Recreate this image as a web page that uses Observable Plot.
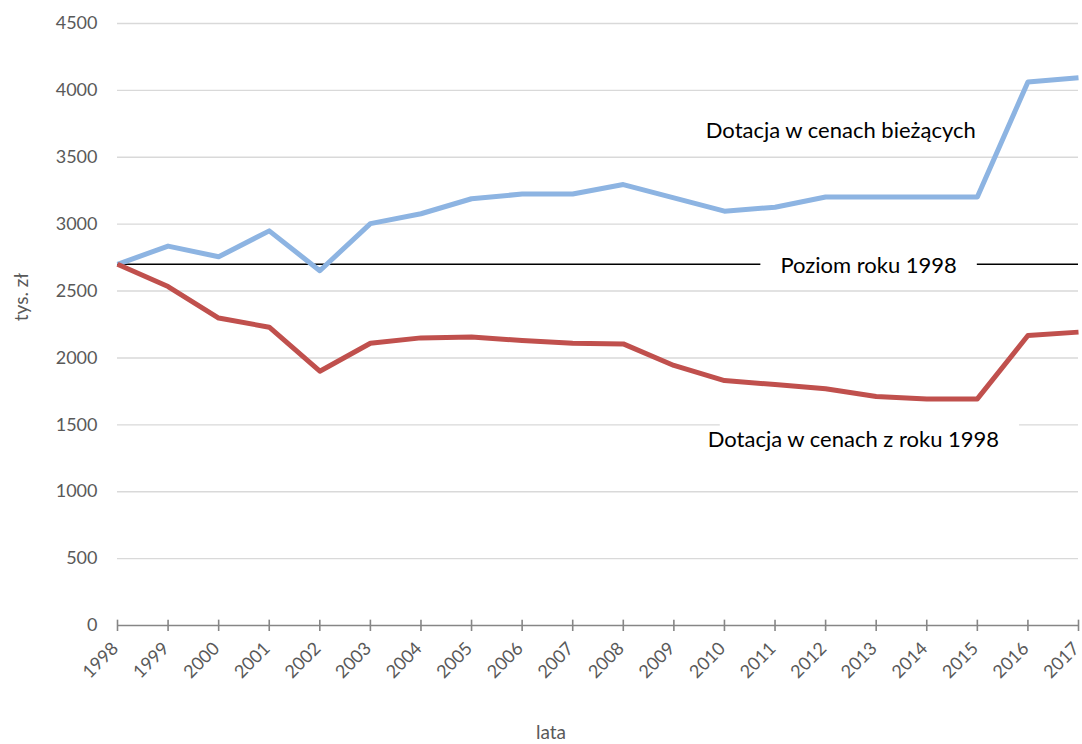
<!DOCTYPE html>
<html>
<head>
<meta charset="utf-8">
<script src="https://cdn.jsdelivr.net/npm/d3@7"></script>
<script src="https://cdn.jsdelivr.net/npm/@observablehq/plot@0.6"></script>
<style>
  html, body { margin: 0; padding: 0; background: #fff; }
  #chart { width: 1082px; height: 744px; }
  svg { font-family: Lato, "Open Sans", sans-serif; }
</style>
</head>
<body>
<div id="chart"></div>
<script>
const years = [1998, 1999, 2000, 2001, 2002, 2003, 2004, 2005, 2006, 2007, 2008, 2009, 2010, 2011, 2012, 2013, 2014, 2015, 2016, 2017];
const currentPrices = [2700, 2836, 2756, 2950, 2652, 3004, 3078, 3190, 3225, 3225, 3296, 3196, 3097, 3127, 3203, 3203, 3203, 3203, 4063, 4094];
const constantPrices = [2700, 2534, 2298, 2230, 1901, 2110, 2150, 2157, 2130, 2110, 2105, 1944, 1831, 1801, 1769, 1712, 1694, 1694, 2168, 2193];
const baseLevel = 2700;
const yTicks = [0, 500, 1000, 1500, 2000, 2500, 3000, 3500, 4000, 4500];
const seriesNames = ["Dotacja w cenach bieżących", "Dotacja w cenach z roku 1998"];
const baseLabel = "Poziom roku 1998";
const xTitle = "lata";
const yTitle = "tys. zł";
// label anchor positions in data units
const labels = [
  {text: seriesNames[0], year: 2012.3, value: 3700, padL: 0, padR: 0},
  {text: baseLabel, year: 2012.85, value: 2685, padL: 20, padR: 20},
  {text: seriesNames[1], year: 2012.55, value: 1385, padL: -12, padR: 20}
];

const rows = [];
years.forEach((y, i) => {
  rows.push({year: y, value: currentPrices[i], series: seriesNames[0]});
  rows.push({year: y, value: constantPrices[i], series: seriesNames[1]});
});

const plot = Plot.plot({
  width: 1082,
  height: 744,
  marginLeft: 117,
  marginRight: 4,
  marginTop: 23,
  marginBottom: 119,
  style: {fontFamily: "Lato, 'Open Sans', sans-serif", background: "#fff"},
  x: {domain: [1998, 2017]},
  y: {domain: [0, 4500]},
  color: {domain: seriesNames, range: ["#8DB4E2", "#C0504D"]},
  marks: [
    Plot.gridY(yTicks.slice(1), {stroke: "#D9D9D9", strokeOpacity: 1, strokeWidth: 1.4}),
    Plot.axisY(yTicks, {tickSize: 0, tickPadding: 20, fontSize: 18, fill: "#595959", label: null, tickFormat: d => String(d)}),
    Plot.ruleY([0], {stroke: "#868686", strokeWidth: 1.6}),
    Plot.ruleX(years, {y1: 0, y2: 40, stroke: "#868686", strokeWidth: 1.6}),
    Plot.axisX(years, {tickSize: 6, tickRotate: -45, tickPadding: 12, fontSize: 18, fill: "#595959", stroke: "#868686", strokeWidth: 1.6, tickFormat: d => String(d), label: null}),
    Plot.ruleY([baseLevel], {stroke: "#000", strokeWidth: 1.6}),
    Plot.line(rows, {x: "year", y: "value", z: "series", stroke: "series", strokeWidth: 5, strokeLinejoin: "round", strokeLinecap: "butt"}),
    Plot.text(labels, {x: "year", y: "value", text: "text", fontSize: 22, fill: "#000"})
  ]
});

document.getElementById("chart").appendChild(plot);

const svg = d3.select(plot);
// nudge rotated year labels slightly left so the last one fits
svg.selectAll("text").each(function() {
  const t = this.textContent;
  if (years.map(String).includes(t) && this.closest("g[aria-label='x-axis tick label']")) {
    this.setAttribute("dx", "-3");
  }
});

// white boxes behind annotation labels
svg.selectAll("text").each(function() {
  const lab = labels.find(l => l.text === this.textContent);
  if (!lab || (!lab.padL && !lab.padR)) return;
  const bb = this.getBBox();
  const r = d3.select(this.parentNode).insert("rect", () => this)
    .attr("x", bb.x - lab.padL).attr("y", bb.y - 2)
    .attr("width", bb.width + lab.padL + lab.padR).attr("height", bb.height + 4)
    .attr("fill", "#fff").attr("stroke", "none");
  const tr = this.getAttribute("transform");
  if (tr) r.attr("transform", tr);
  if (this.getAttribute("x")) r.attr("x", +this.getAttribute("x") + bb.x - lab.padL);
});

// axis titles
svg.append("text")
  .attr("transform", "translate(28,297) rotate(-90)")
  .attr("text-anchor", "middle")
  .attr("font-size", 19).attr("fill", "#595959")
  .text(yTitle);
svg.append("text")
  .attr("x", 551).attr("y", 739)
  .attr("text-anchor", "middle")
  .attr("font-size", 19).attr("fill", "#595959")
  .text(xTitle);
</script>
</body>
</html>
